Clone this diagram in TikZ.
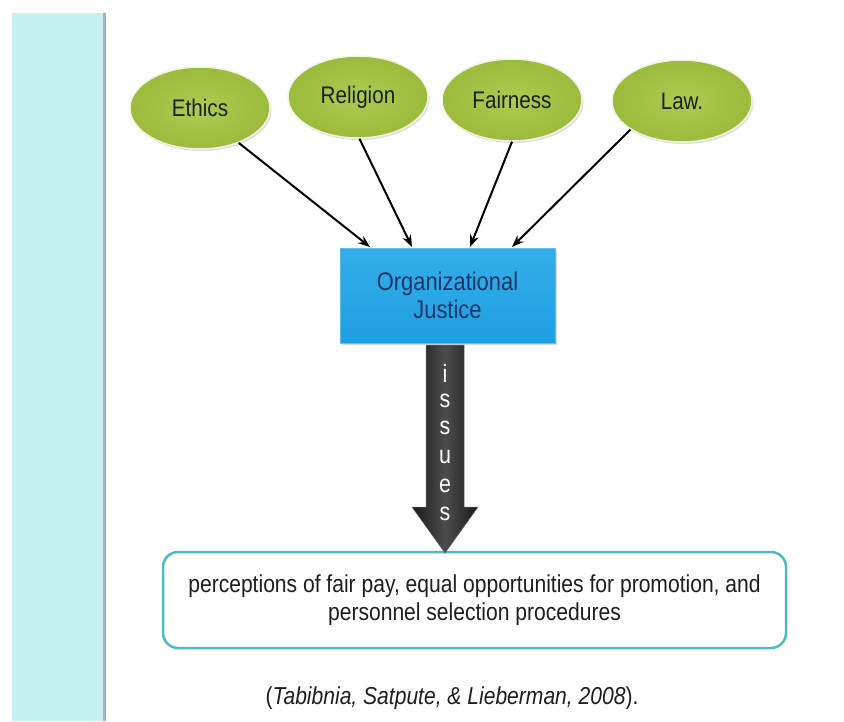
\documentclass[tikz,border=0pt]{standalone}
\usepackage{fontspec}
\setmainfont[FakeStretch=0.86]{Liberation Sans}
\usetikzlibrary{shapes.geometric,arrows.meta,shadows,calc}
\definecolor{stripe}{HTML}{C4F0F2}
\definecolor{stripeedge}{HTML}{9FB5BA}
\definecolor{olive}{HTML}{9BBB3C}
\definecolor{olivelight}{HTML}{AECB52}
\definecolor{ojblue}{HTML}{1E9FE0}
\definecolor{ojbluetop}{HTML}{34AEEA}
\definecolor{ojtext}{HTML}{1C3566}
\definecolor{teal}{HTML}{4DBBC3}
\definecolor{txt}{HTML}{1E1E1E}
\tikzset{
  idea/.style={ellipse, minimum width=140pt, minimum height=82pt, inner sep=0pt,
    draw=white!85!olive, line width=1.5pt, inner color=olivelight, outer color=olive,
    drop shadow={opacity=0.25, shadow xshift=1.5pt, shadow yshift=-2pt},
    font=\fontsize{24}{28}\selectfont, text=txt},
  ojbox/.style={rectangle, minimum width=215pt, minimum height=95pt, inner sep=0pt,
    draw=ojbluetop!80!white, line width=1pt, top color=ojbluetop, bottom color=ojblue,
    drop shadow={opacity=0.3, shadow xshift=1.5pt, shadow yshift=-2pt},
    font=\fontsize{25.5}{28}\selectfont, text=ojtext, align=center},
  resultbox/.style={rectangle, rounded corners=15pt, minimum width=623pt, minimum height=96pt,
    inner sep=0pt, draw=teal, line width=2.5pt, fill=white,
    font=\fontsize{24.5}{28}\selectfont, text=txt, align=center},
  feed/.style={-{Stealth[length=12pt,width=9pt]}, line width=2pt, black},
  letter/.style={text=white, font=\fontsize{25}{25}\selectfont, inner sep=0pt}
}
\begin{document}
\begin{tikzpicture}[x=1pt,y=-1pt]
\useasboundingbox (0,0) rectangle (844,721);
% left stripe
\fill[stripe] (12,13) rectangle (103,721);
\fill[stripeedge] (103,13) rectangle (106,721);
% ideas
\node[idea] (eth) at (200,108) {Ethics};
\node[idea] (rel) at (358,97) {Religion};
\node[idea] (fair) at (512,100) {Fairness};
\node[idea] (law) at (682,101) {Law.};
% organizational justice
\node[ojbox] (oj) at (447.5,295.5) {Organizational\\Justice};
\coordinate (t1) at (370,247);
\coordinate (t2) at (412,247);
\coordinate (t3) at (470,247);
\coordinate (t4) at (512,247);
\draw[feed] (eth.318) -- (t1);
\draw[feed] (rel.-88) -- (t2);
\draw[feed] (fair.south) -- (t3);
\draw[feed] (law.209) -- (t4);
% result box
\node[resultbox] (res) at (474.5,600) {perceptions of fair pay, equal opportunities for promotion, and\\personnel selection procedures};
% issues arrow
\shade[left color=black!90, right color=black!90, middle color=black!70, draw=black!60, line width=0.5pt]
  (426,345) -- (464,345) -- (464,507) -- (478,507) -- (445,553) -- (412,507) -- (426,507) -- cycle;
\node[letter] (l1) at (445,373) {i};
\node[letter] (l2) at (445,401) {s};
\node[letter] (l3) at (445,428) {s};
\node[letter] (l4) at (445,457) {u};
\node[letter] (l5) at (445,486) {e};
\node[letter] (l6) at (445,514) {s};
% citation
\node[font=\fontsize{24.5}{28}\selectfont, text=txt] (cite) at (452,698) {(\textit{Tabibnia, Satpute, \& Lieberman, 2008}).};
\end{tikzpicture}
\end{document}
